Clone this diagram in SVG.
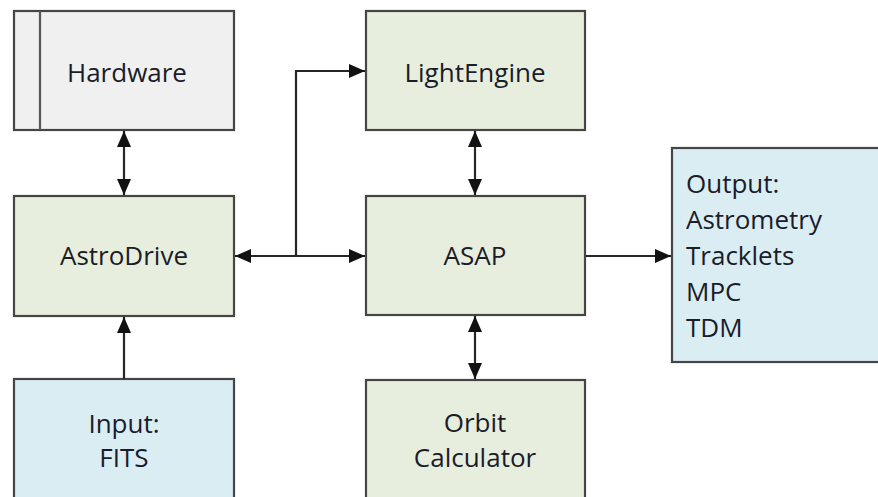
<svg xmlns="http://www.w3.org/2000/svg" width="878" height="497" viewBox="0 0 878 497">
  <style>
    .box { stroke: #454545; stroke-width: 2.2; }
    .gray { fill: #f0f0f0; }
    .green { fill: #e8eedd; }
    .blue { fill: #daedf3; }
    .t { font-family: "Open Sans", "Liberation Sans", sans-serif; font-size: 26px; fill: #1a1c2a; }
    .c { text-anchor: middle; }
    .conn { stroke: #262626; stroke-width: 2.2; fill: none; }
  </style>
  <defs>
    <marker id="ah" markerUnits="userSpaceOnUse" markerWidth="18" markerHeight="16" refX="16" refY="8" orient="auto-start-reverse">
      <path d="M0,1 L16,8 L0,15 Z" fill="#111"/>
    </marker>
  </defs>
  <rect width="878" height="497" fill="#ffffff"/>

  <g id="hardware">
    <rect class="box gray" x="14" y="11" width="220" height="119"/>
    <line x1="40" y1="11" x2="40" y2="130" stroke="#555" stroke-width="2.2"/>
    <text class="t c" x="127" y="82">Hardware</text>
  </g>
  <g id="astrodrive">
    <rect class="box green" x="14" y="196" width="220" height="120"/>
    <text class="t c" x="124" y="265">AstroDrive</text>
  </g>
  <g id="input">
    <rect class="box blue" x="14" y="379" width="220" height="130"/>
    <text class="t c" x="124" y="433">Input:</text>
    <text class="t c" x="124" y="467">FITS</text>
  </g>
  <g id="lightengine">
    <rect class="box green" x="366" y="11" width="219" height="119"/>
    <text class="t c" x="475" y="82">LightEngine</text>
  </g>
  <g id="asap">
    <rect class="box green" x="366" y="196" width="219" height="119"/>
    <text class="t c" x="475" y="265">ASAP</text>
  </g>
  <g id="orbit">
    <rect class="box green" x="366" y="380" width="219" height="130"/>
    <text class="t c" x="475" y="432">Orbit</text>
    <text class="t c" x="475" y="467">Calculator</text>
  </g>
  <g id="output">
    <rect class="box blue" x="672" y="148" width="220" height="214"/>
    <text class="t" x="686" y="193">Output:</text>
    <text class="t" x="686" y="229">Astrometry</text>
    <text class="t" x="686" y="265">Tracklets</text>
    <text class="t" x="686" y="301">MPC</text>
    <text class="t" x="686" y="337">TDM</text>
  </g>

  <g id="connectors">
    <line class="conn" x1="124" y1="131" x2="124" y2="195" marker-start="url(#ah)" marker-end="url(#ah)"/>
    <line class="conn" x1="124" y1="379" x2="124" y2="317" marker-end="url(#ah)"/>
    <line class="conn" x1="475" y1="131" x2="475" y2="195" marker-start="url(#ah)" marker-end="url(#ah)"/>
    <line class="conn" x1="475" y1="316" x2="475" y2="379" marker-start="url(#ah)" marker-end="url(#ah)"/>
    <line class="conn" x1="235" y1="256" x2="365" y2="256" marker-start="url(#ah)" marker-end="url(#ah)"/>
    <path class="conn" d="M296,256 V71 H365" marker-end="url(#ah)"/>
    <line class="conn" x1="586" y1="256" x2="671" y2="256" marker-end="url(#ah)"/>
  </g>
</svg>
